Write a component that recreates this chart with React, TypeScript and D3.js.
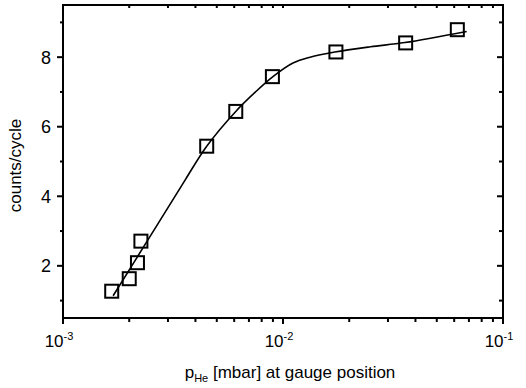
import React from "react";
import * as d3 from "d3";

const pressure = [1.665e-3, 2.0e-3, 2.18e-3, 2.26e-3, 4.5e-3, 6.1e-3, 8.95e-3, 0.0174, 0.0361, 0.062];
const counts = [1.27, 1.63, 2.09, 2.71, 5.44, 6.44, 7.44, 8.15, 8.41, 8.79];

const fitPressure = [1.69e-3, 2.6e-3, 3.6e-3, 4.5e-3, 6.1e-3, 7.5e-3, 9.0e-3, 0.0111, 0.01327, 0.0172, 0.025, 0.0358, 0.0684];
const fitCounts = [1.14, 3.04, 4.48, 5.44, 6.44, 7.0, 7.44, 7.83, 8.0, 8.15, 8.3, 8.42, 8.74];

const yMajor = [2, 4, 6, 8];
const yMinor = [1, 3, 5, 7, 9];
const xDecades = [-3, -2, -1];

const W = 526, H = 388;
const L = 63, R = 503, T = 5, B = 318;
const FONT = "'Liberation Sans', Arial, sans-serif";

export default function App() {
  const x = d3.scaleLog().domain([1e-3, 1e-1]).range([L, R]);
  const y = d3.scaleLinear().domain([0.5, 9.5]).range([B, T]);

  const xMinor: number[] = [];
  for (const dec of [-3, -2]) {
    for (let m = 2; m <= 9; m++) xMinor.push(m * Math.pow(10, dec));
  }

  const fitData = fitPressure.map((p, i) => [p, fitCounts[i]] as [number, number]);
  const line = d3
    .line<[number, number]>()
    .x((d) => x(d[0]))
    .y((d) => y(d[1]))
    .curve(d3.curveCatmullRom.alpha(0.5));

  const sq = 13;

  return (
    <svg
      width={W}
      height={H}
      style={{ position: "absolute", left: 0, top: 0, background: "#fff" }}
    >
      <rect x={0} y={0} width={W} height={H} fill="#fff" />
      <path d={line(fitData) || ""} fill="none" stroke="#000" strokeWidth={1.6} />
      {pressure.map((p, i) => (
        <rect
          key={i}
          x={x(p) - sq / 2}
          y={y(counts[i]) - sq / 2}
          width={sq}
          height={sq}
          fill="none"
          stroke="#000"
          strokeWidth={2}
        />
      ))}
      <rect x={L} y={T} width={R - L} height={B - T} fill="none" stroke="#000" strokeWidth={2} />
      {yMajor.map((v) => (
        <g key={"ym" + v}>
          <line x1={L - 6} x2={L} y1={y(v)} y2={y(v)} stroke="#000" strokeWidth={2} />
          <line x1={R - 6} x2={R} y1={y(v)} y2={y(v)} stroke="#000" strokeWidth={2} />
          <text
            x={L - 12}
            y={y(v)}
            dy="0.36em"
            textAnchor="end"
            fontFamily={FONT}
            fontSize={18}
            fill="#000"
          >
            {v}
          </text>
        </g>
      ))}
      {yMinor.map((v) => (
        <g key={"yn" + v}>
          <line x1={L - 3} x2={L} y1={y(v)} y2={y(v)} stroke="#000" strokeWidth={2} />
          <line x1={R - 4} x2={R} y1={y(v)} y2={y(v)} stroke="#000" strokeWidth={2} />
        </g>
      ))}
      {xDecades.map((d) => {
        const px = x(Math.pow(10, d));
        return (
          <g key={"xd" + d}>
            <line x1={px} x2={px} y1={B} y2={B + 6} stroke="#000" strokeWidth={2} />
            <line x1={px} x2={px} y1={T} y2={T + 3} stroke="#000" strokeWidth={2} />
            <text
              x={px - 4}
              y={347}
              textAnchor="middle"
              fontFamily={FONT}
              fontSize={17}
              fill="#000"
            >
              10
              <tspan fontSize={11} dy={-7}>
                {String(d)}
              </tspan>
            </text>
          </g>
        );
      })}
      {xMinor.map((v, i) => (
        <g key={"xn" + i}>
          <line x1={x(v)} x2={x(v)} y1={B} y2={B + 4} stroke="#000" strokeWidth={2} />
          <line x1={x(v)} x2={x(v)} y1={T} y2={T + 3} stroke="#000" strokeWidth={2} />
        </g>
      ))}
      <text
        x={290}
        y={378}
        textAnchor="middle"
        fontFamily={FONT}
        fontSize={17}
        fill="#000"
      >
        p
        <tspan fontSize={11} dy={4}>
          He
        </tspan>
        <tspan dy={-4}> [mbar] at gauge position</tspan>
      </text>
      <text
        transform={`translate(21, ${(T + B) / 2 + 4}) rotate(-90)`}
        textAnchor="middle"
        fontFamily={FONT}
        fontSize={17}
        fill="#000"
      >
        counts/cycle
      </text>
    </svg>
  );
}
